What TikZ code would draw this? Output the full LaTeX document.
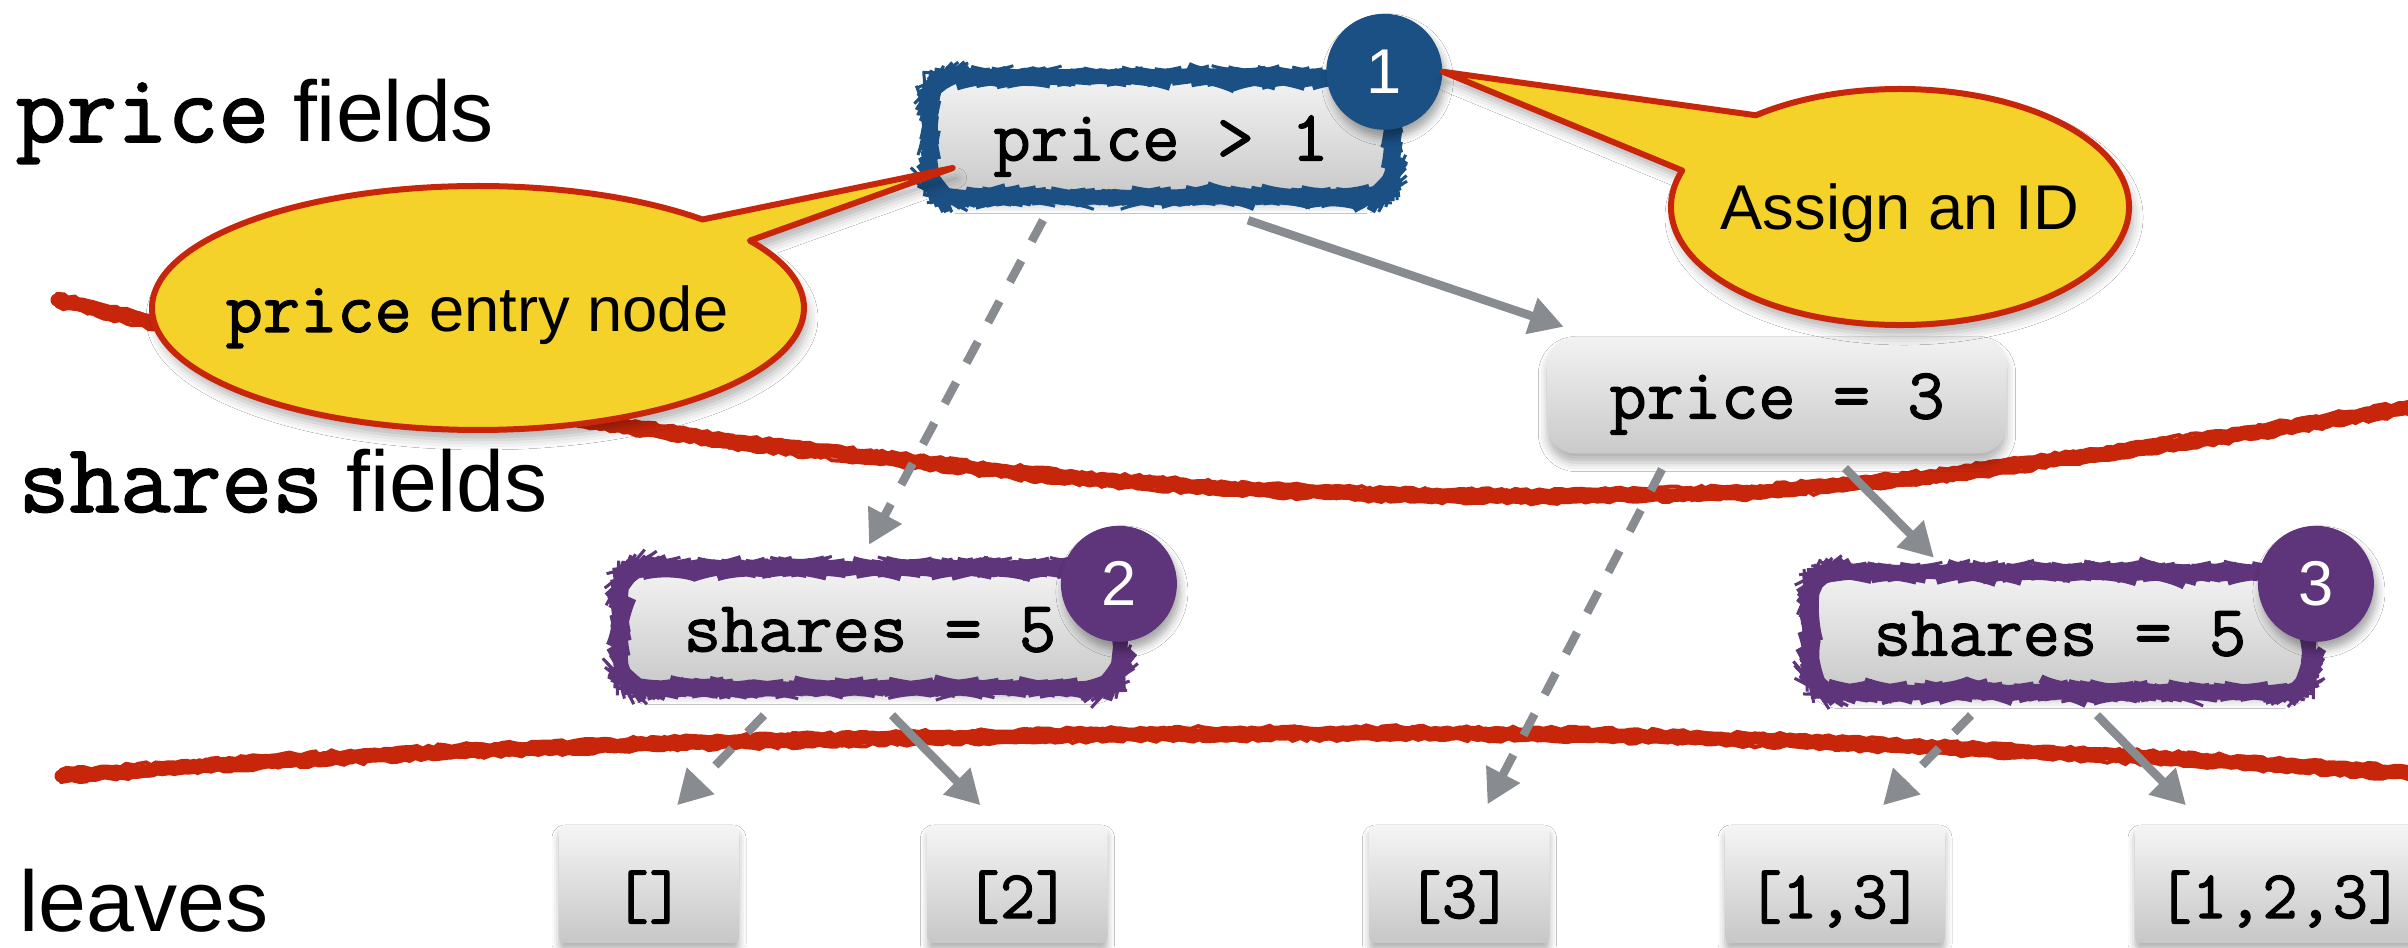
\documentclass[tikz,border=0pt]{standalone}
\usepackage{fontspec}
\setmainfont{Liberation Sans}
\setmonofont{Latin Modern Mono}[Scale=1.143, FakeBold=1.6]
\usetikzlibrary{arrows.meta,decorations.pathmorphing,shadows.blur}

\definecolor{chalkred}{RGB}{200,38,10}
\definecolor{notefill}{RGB}{245,210,42}
\definecolor{idblue}{RGB}{27,80,133}
\definecolor{idpurple}{RGB}{94,52,122}
\definecolor{edgegray}{RGB}{136,139,143}

\tikzstyle{fieldbox} = [rectangle, rounded corners=2.8mm, top color=black!5, bottom color=black!21,
    minimum height=11.7mm, inner xsep=6.2mm, text height=5.5mm, text depth=0.8mm,
    font=\fontsize{18}{20}\ttfamily,
    blur shadow={shadow xshift=0mm, shadow yshift=-0.9mm, shadow blur radius=0.9mm, shadow opacity=30}]
\tikzstyle{leafbox} = [rectangle, rounded corners=0.6mm, top color=black!4, bottom color=black!22,
    minimum width=18mm, minimum height=11.8mm, inner xsep=1mm, inner ysep=1mm,
    text height=7.3mm, text depth=0.5mm, font=\fontsize{17}{20}\ttfamily,
    blur shadow={shadow xshift=0mm, shadow yshift=-0.7mm, shadow blur radius=0.7mm, shadow opacity=30}]
\tikzstyle{roughedge} = [line width=0.9mm, rounded corners=2.8mm, decorate,
    decoration={random steps, segment length=0.5mm, amplitude=0.1mm}]
\tikzstyle{idball} = [circle, minimum size=11.6mm, inner sep=0, text=white,
    font=\fontsize{18}{20}\selectfont,
    blur shadow={shadow xshift=0.3mm, shadow yshift=-0.8mm, shadow blur radius=0.8mm, shadow opacity=35}]
\tikzstyle{chalk} = [chalkred, line cap=round, decorate,
    decoration={random steps, segment length=0.6mm, amplitude=0.18mm}]
\tikzstyle{yesedge} = [edgegray, line width=0.85mm, -{Triangle[length=3.4mm, width=3.6mm]}]
\tikzstyle{noedge} = [yesedge, dash pattern=on 2.4mm off 2.2mm]
\tikzstyle{bubble} = [draw=chalkred, fill=notefill, line width=0.6mm, line join=round,
    blur shadow={shadow xshift=0.4mm, shadow yshift=-1mm, shadow blur radius=1mm, shadow opacity=30}]
\tikzstyle{bubbletext} = [anchor=base, inner sep=0, font=\fontsize{18}{20}\selectfont]
\tikzstyle{rowlabel} = [anchor=base west, inner sep=0, font=\fontsize{24.5}{28}\selectfont]

\begin{document}
\begin{tikzpicture}[x=1mm, y=1mm]
\path[use as bounding box, fill=white] (0,0) rectangle (240.8,94.7);
\pgfmathsetseed{7}

% chalk lines between the levels
\foreach \dy/\w in {0/1.3, 0.6/0.4, -0.6/0.4} {
    \draw[chalk, line width=\w mm, yshift=\dy mm] plot coordinates
        {(5.7,64.7) (18,61.8) (30,59.0) (45,55.5) (60,52.4) (75,50.3) (90,48.7) (106,47.0) (123,45.8)
         (140,45.2) (155,45.0) (176,45.5) (193,47.0) (209,49.2) (225,51.4) (240.8,53.9)};
    \draw[chalk, line width=\w mm, yshift=\dy mm] plot coordinates
        {(6.1,17.1) (26,18.5) (46,19.6) (68,20.4) (90,20.9) (115,21.3) (140,21.4) (160,21.2)
         (180,20.6) (195,19.9) (210,19.2) (225,18.4) (240.8,17.4)};
}

% level names
\node[rowlabel] (lblprice) at (1.5,80.5) {\texttt{price} fields};
\node[rowlabel] (lblshares) at (1.8,43.5) {\texttt{shares} fields};
\node[rowlabel] (lblleaves) at (1.9,1.6) {leaves};

% decision nodes
\node[fieldbox] (pgt) at (116.1,81.0) {price > 1};
\node[fieldbox] (peq) at (177.7,55.2) {price = 3};
\node[fieldbox] (sleft) at (87.0,31.9) {shares = 5};
\node[fieldbox] (sright) at (206.0,31.5) {shares = 5};

% leaves
\node[leafbox] (lnone) at (64.9,6.3) {[]};
\node[leafbox] (ltwo) at (101.75,6.3) {[2]};
\node[leafbox] (lthree) at (145.95,6.3) {[3]};
\node[leafbox, minimum width=22mm] (lonethree) at (183.5,6.3) {[1,3]};
\node[leafbox, minimum width=29mm] (lall) at (228.0,6.3) {[1,2,3]};

% edges: solid when the test holds, dashed otherwise
\draw[noedge] ([shift={(-11.8mm,-2.4mm)}]pgt.south) -- ([shift={(-0.1mm,2.4mm)}]sleft.north);
\draw[yesedge] ([shift={(8.7mm,-2.4mm)}]pgt.south) -- ([shift={(1.7mm,0.9mm)}]peq.north west);
\draw[noedge] ([shift={(-11.5mm,-1.5mm)}]peq.south) -- ([shift={(2.8mm,2mm)}]lthree.north);
\draw[yesedge] ([shift={(6.8mm,-1.4mm)}]peq.south) -- ([shift={(-12.6mm,1.5mm)}]sright.north);
\draw[noedge] ([shift={(-10.6mm,-2.8mm)}]sleft.south) -- ([shift={(2.8mm,1.9mm)}]lnone.north);
\draw[yesedge] ([shift={(2.2mm,-2.8mm)}]sleft.south) -- ([shift={(-3.7mm,1.9mm)}]ltwo.north);
\draw[noedge] ([shift={(-8.9mm,-2.4mm)}]sright.south) -- ([shift={(4.8mm,1.9mm)}]lonethree.north);
\draw[yesedge] ([shift={(3.7mm,-2.4mm)}]sright.south) -- ([shift={(-9.4mm,1.9mm)}]lall.north);

% hand drawn outlines of the entry nodes
\foreach \n/\c in {pgt/idblue, sleft/idpurple, sright/idpurple} {
    \draw[roughedge, \c] (\n.south west) rectangle (\n.north east);
    \draw[roughedge, \c, line width=0.3mm, decoration={segment length=0.4mm, amplitude=0.07mm}]
        ([shift={(-0.4mm,-0.4mm)}]\n.south west) rectangle ([shift={(0.4mm,0.4mm)}]\n.north east);
}

% ids
\node[idball, fill=idblue] (id1) at ([shift={(-0.7mm,0.6mm)}]pgt.north east) {1};
\node[idball, fill=idpurple] (id2) at ([yshift=-1.5mm]sleft.north east) {2};
\node[idball, fill=idpurple] (id3) at ([shift={(0.7mm,-1.1mm)}]sright.north east) {3};

% callouts
\draw[bubble] (47.8,63.9) ++(46.5:32.6mm and 12.2mm)
    arc[start angle=46.5, end angle=393.5, x radius=32.6mm, y radius=12.2mm]
    -- ([shift={(2.2mm,-3.1mm)}]pgt.west) -- cycle;
\node[bubbletext] (entrynote) at (47.7,61.5) {\texttt{price} entry node};

\draw[bubble] (190.0,74.0) ++(162:22.9mm and 11.8mm)
    arc[start angle=162, end angle=489, x radius=22.9mm, y radius=11.8mm]
    -- (id1.east) -- cycle;
\node[bubbletext] (idnote) at (190.0,71.7) {Assign an ID};
\end{tikzpicture}
\end{document}
